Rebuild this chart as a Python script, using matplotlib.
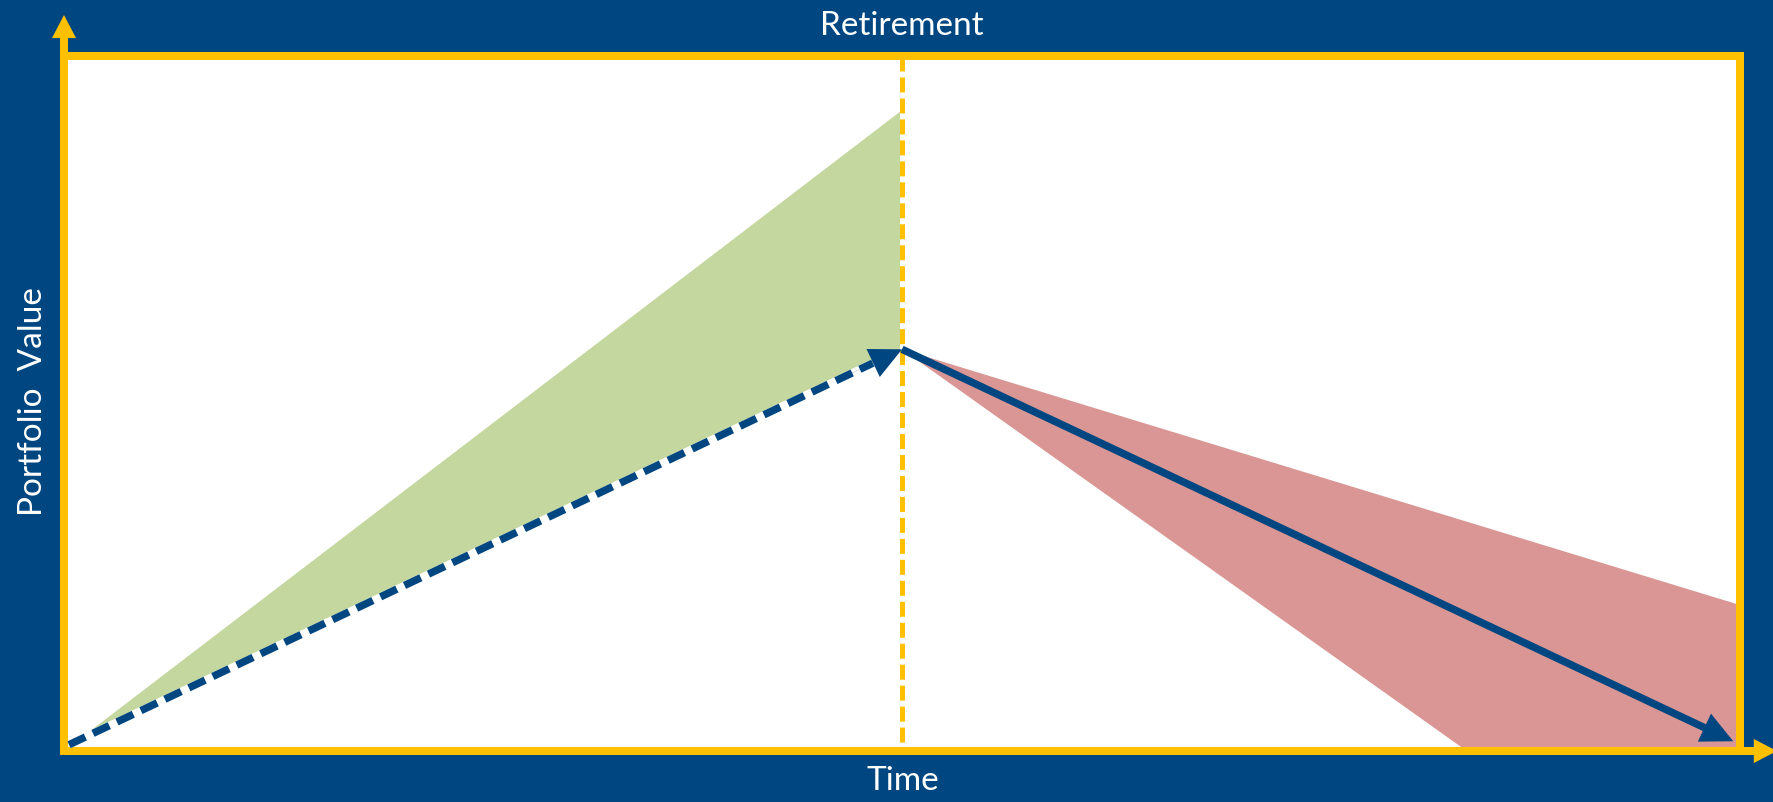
import matplotlib
matplotlib.use('Agg')
import matplotlib.pyplot as plt

plt.rcParams['font.family'] = ['Lato', 'DejaVu Sans']
plt.rcParams['lines.scale_dashes'] = False

NAVY = '#004680'
YELLOW = '#FFC000'
GREEN = '#C4D79F'
RED = '#D99694'

# data (time 0-100, portfolio value 0-100)
retire_x = 50
growth_x = [0, 50, 50]
growth_y = [0, 92.2, 57.8]
draw_x = [50, 100, 100, 83.7]
draw_y = [57.8, 21.0, 0, 0]
path_x = [0.3, 50, 99.6]
path_y = [0.9, 57.8, 1.4]

W, H = 1774, 802
fig = plt.figure(figsize=(W / 100, H / 100), dpi=100, facecolor=NAVY)
ax = fig.add_axes([64 / W, 1 - 751 / H, 1676 / W, 695 / H])
ax.set_facecolor('white')
ax.set_xlim(0, 100)
ax.set_ylim(0, 100)
ax.set_xticks([])
ax.set_yticks([])
for s in ax.spines.values():
    s.set_color(YELLOW)
    s.set_linewidth(5.76)
    s.set_capstyle('projecting')

ax.fill(growth_x, growth_y, color=GREEN, lw=0, zorder=1)
ax.fill(draw_x, draw_y, color=RED, lw=0, zorder=1)

# retirement line
ax.plot([retire_x, retire_x], [0, 100], color='white', lw=3.6, zorder=2)
ax.plot([retire_x, retire_x], [100, 0], color=YELLOW, lw=3.6, zorder=2.1,
        dashes=(10.8, 4.3), solid_capstyle='butt', dash_capstyle='butt')

# accumulation phase (dashed arrow)
f = 0.965
ex = path_x[0] + (path_x[1] - path_x[0]) * f
ey = path_y[0] + (path_y[1] - path_y[0]) * f
ax.plot([path_x[0], ex], [path_y[0], ey], color='white', lw=5.4, zorder=3,
        solid_capstyle='butt')
ax.plot([path_x[0], ex], [path_y[0], ey], color=NAVY, lw=5.4, zorder=3.1,
        dashes=(13, 6.1), dash_capstyle='butt')
hx = path_x[0] + (path_x[1] - path_x[0]) * 0.93
hy = path_y[0] + (path_y[1] - path_y[0]) * 0.93
ax.annotate('', xy=(path_x[1], path_y[1]), xytext=(hx, hy),
            arrowprops=dict(arrowstyle='simple,head_length=23,head_width=22.3,tail_width=0.1',
                            mutation_scale=1, color=NAVY, lw=0, shrinkA=0, shrinkB=0),
            zorder=3.2)

# drawdown phase (solid arrow)
ax.annotate('', xy=(path_x[2], path_y[2]), xytext=(path_x[1], path_y[1]),
            arrowprops=dict(arrowstyle='simple,head_length=23,head_width=22.3,tail_width=5.4',
                            mutation_scale=1, color=NAVY, lw=0, shrinkA=0, shrinkB=0),
            zorder=3.2)

# axis arrows
ax.annotate('', xy=(0, 105.9), xytext=(0, 99),
            arrowprops=dict(arrowstyle='simple,head_length=16.6,head_width=17.3,tail_width=5.76',
                            mutation_scale=1, color=YELLOW, lw=0, shrinkA=0, shrinkB=0),
            annotation_clip=False)
ax.annotate('', xy=(102.2, 0), xytext=(99.5, 0),
            arrowprops=dict(arrowstyle='simple,head_length=16.6,head_width=17.3,tail_width=5.76',
                            mutation_scale=1, color=YELLOW, lw=0, shrinkA=0, shrinkB=0),
            annotation_clip=False)

fig.text(902 / W, 1 - 35 / H, 'Retirement', color='white', fontsize=24,
         ha='center', va='baseline')
fig.text(903 / W, 1 - 790 / H, 'Time', color='white', fontsize=24,
         ha='center', va='baseline')
fig.text(42 / W, 1 - 402 / H, 'Portfolio  Value', color='white', fontsize=24,
         ha='center', va='baseline', rotation=90, rotation_mode='anchor')

fig.savefig('out.png', dpi=100, facecolor=NAVY)
